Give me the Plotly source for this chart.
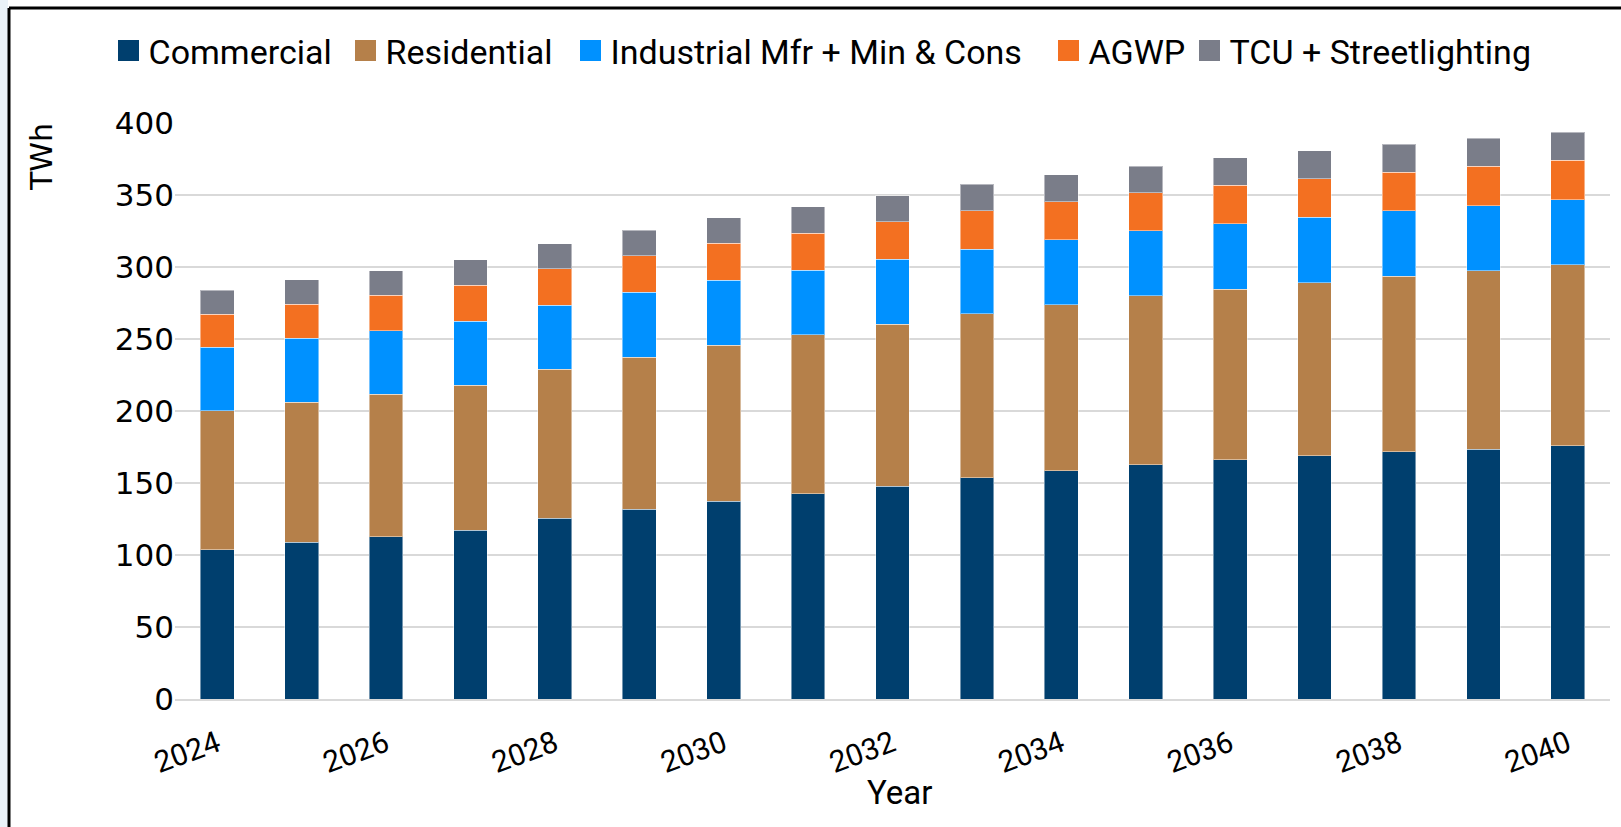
import plotly.graph_objects as go

years = list(range(2024, 2041))
tick_years = [2024, 2026, 2028, 2030, 2032, 2034, 2036, 2038, 2040]

commercial = [103.8, 108.7, 112.6, 117.1, 125.5, 131.8, 137.5, 142.6, 147.9,
              153.7, 158.6, 162.7, 166.2, 168.8, 171.8, 173.6, 175.7]
residential = [96.3, 97.5, 99.1, 100.9, 103.4, 105.7, 108.3, 110.4, 112.5,
               113.9, 115.2, 117.2, 118.5, 120.3, 121.7, 123.9, 125.7]
industrial = [44.2, 44.2, 44.2, 44.5, 44.7, 45.1, 44.9, 44.9, 44.9,
              44.9, 45.2, 45.3, 45.4, 45.6, 45.4, 45.1, 45.4]
agwp = [22.8, 23.9, 24.4, 25.0, 25.1, 25.3, 25.7, 25.7, 26.0,
        26.4, 26.4, 26.4, 26.6, 26.6, 26.8, 27.3, 27.3]
tcu = [16.8, 16.7, 17.0, 17.4, 17.5, 17.6, 17.9, 18.3, 18.2,
       18.6, 18.5, 18.5, 19.0, 19.3, 19.5, 19.5, 19.4]

series_names = ["Commercial", "Residential", "Industrial Mfr + Min & Cons",
                "AGWP", "TCU + Streetlighting"]
series_values = [commercial, residential, industrial, agwp, tcu]
series_colors = ["#003F6E", "#B5804A", "#0091FF", "#F37021", "#7A7D89"]

LEGEND_FONT = "Roboto, 'Open Sans', sans-serif"
NUM_FONT = "'DejaVu Sans', Verdana, sans-serif"

L, R, T, B = 175, 11, 123, 128
W, H = 1621, 827
pw, ph = W - L - R, H - T - B


def px_x(px):
    return (px - L) / pw


def px_y(py):
    return (H - B - py) / ph


# left edge (px) of each legend swatch in the reference layout
legend_swatch_left = [120, 357, 582, 1060, 1201]
legend_ids = ["legend", "legend2", "legend3", "legend4", "legend5"]

fig = go.Figure()
for name, vals, col in zip(series_names, series_values, series_colors):
    fig.add_trace(go.Bar(
        x=years, y=vals, name=name, showlegend=False,
        marker=dict(color=col, line=dict(color="rgba(255,255,255,0.45)", width=1)),
        width=0.4,
    ))
# legend entries (no data), one legend box per entry
for name, col, lid in zip(series_names, series_colors, legend_ids):
    fig.add_trace(go.Scatter(
        x=[None], y=[None], mode="markers", name=name, legend=lid,
        marker=dict(symbol="square", size=16, color=col, line=dict(width=5, color=col)),
    ))

legend_layouts = {}
for lid, left in zip(legend_ids, legend_swatch_left):
    legend_layouts[lid] = dict(
        orientation="h", x=px_x(left + 10.5 - 22), xanchor="left",
        y=px_y(51), yanchor="middle",
        font=dict(family=LEGEND_FONT, size=34, color="#000000"),
        itemsizing="trace", itemwidth=30, bgcolor="rgba(0,0,0,0)",
    )

annotations = [
    dict(x=px_x(899), xref="paper", y=px_y(792), yref="paper", text="Year",
         showarrow=False, xanchor="center", yanchor="middle",
         font=dict(family=LEGEND_FONT, size=33, color="#000000")),
    dict(x=px_x(41), xref="paper", y=px_y(157), yref="paper", text="TWh",
         showarrow=False, textangle=-90, xanchor="center", yanchor="middle",
         font=dict(family=NUM_FONT, size=30, color="#000000")),
]

shapes = [
    dict(type="rect", xref="paper", yref="paper", x0=px_x(0), x1=px_x(8),
         y0=px_y(H), y1=px_y(0), fillcolor="#EAF2F8", line=dict(width=0), layer="below"),
    dict(type="line", xref="paper", yref="paper", x0=px_x(9), x1=px_x(9),
         y0=px_y(H), y1=px_y(8), line=dict(color="#000000", width=3)),
    dict(type="line", xref="paper", yref="paper", x0=px_x(9), x1=px_x(W),
         y0=px_y(8), y1=px_y(8), line=dict(color="#000000", width=3)),
]

fig.update_layout(
    width=W, height=H,
    margin=dict(l=L, r=R, t=T, b=B, pad=0),
    barmode="stack",
    plot_bgcolor="#FFFFFF", paper_bgcolor="#FFFFFF",
    showlegend=True,
    xaxis=dict(
        range=[2023.5, 2040.5], tickmode="array", tickvals=tick_years,
        ticktext=[str(y) for y in tick_years], tickangle=-20,
        tickfont=dict(family=LEGEND_FONT, size=30, color="#000000"),
        showgrid=False, showline=True, linecolor="#D9D9D9", linewidth=2,
        ticks="", zeroline=False, ticklabelstandoff=14,
    ),
    yaxis=dict(
        range=[0, 400], dtick=50, tick0=0, showgrid=True, gridcolor="#D9D9D9",
        gridwidth=2, zeroline=False, showline=False, ticks="",
        tickfont=dict(family=NUM_FONT, size=31, color="#000000"),
    ),
    annotations=annotations,
    shapes=shapes,
    **legend_layouts,
)

fig.write_html(
    "out.html",
    config={"displayModeBar": False},
    post_script="document.body.style.margin='0';document.body.style.overflow='hidden';",
)
